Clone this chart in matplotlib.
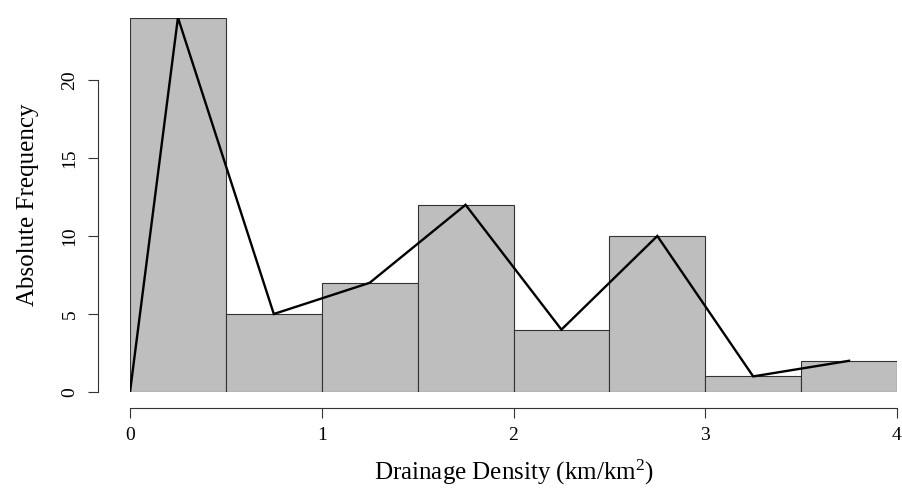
import numpy as np
import matplotlib
matplotlib.use("Agg")
import matplotlib.pyplot as plt

# histogram data (bin edges + counts), frequency polygon through bin midpoints
bin_edges = [0.0, 0.5, 1.0, 1.5, 2.0, 2.5, 3.0, 3.5, 4.0]
counts = [24, 5, 7, 12, 4, 10, 1, 2]
poly_x = [0.0, 0.25, 0.75, 1.25, 1.75, 2.25, 2.75, 3.25, 3.75]
poly_y = [0, 24, 5, 7, 12, 4, 10, 1, 2]
x_ticks = [0, 1, 2, 3, 4]
y_ticks = [0, 5, 10, 15, 20]

plt.rcParams['font.family'] = ['Liberation Serif', 'DejaVu Serif']
plt.rcParams['mathtext.fontset'] = 'custom'
plt.rcParams['mathtext.rm'] = 'Liberation Serif'

W, H = 902, 488
fig = plt.figure(figsize=(W / 100, H / 100), dpi=100)
ax = fig.add_axes([130 / W, (H - 392) / H, 767 / W, 374.4 / H])

edges = np.array(bin_edges)
ax.bar(edges[:-1], counts, width=np.diff(edges), align='edge',
       color='#bebebe', edgecolor='#333333', linewidth=0.8)
ax.plot(poly_x, poly_y, color='black', linewidth=1.7, solid_joinstyle='miter')

ax.set_xlim(0, 4)
ax.set_ylim(0, 24)

for s in ['top', 'right']:
    ax.spines[s].set_visible(False)
ax.spines['left'].set_position(('outward', 23))
ax.spines['bottom'].set_position(('outward', 11.5))
ax.spines['left'].set_bounds(0, 20)
ax.spines['bottom'].set_bounds(0, 4)
for s in ['left', 'bottom']:
    ax.spines[s].set_color('#333333')
    ax.spines[s].set_linewidth(0.8)

ax.set_xticks(x_ticks)
ax.set_yticks(y_ticks)
ax.tick_params(length=7, width=0.8, color='#333333', labelsize=14, pad=7)
plt.setp(ax.get_yticklabels(), rotation=90, va='center')

ax.set_xlabel(r'Drainage Density (km/km$\mathregular{^2}$)', fontsize=18, labelpad=10)
ax.set_ylabel('Absolute Frequency', fontsize=18, labelpad=16)

fig.savefig('out.png', dpi=100)
